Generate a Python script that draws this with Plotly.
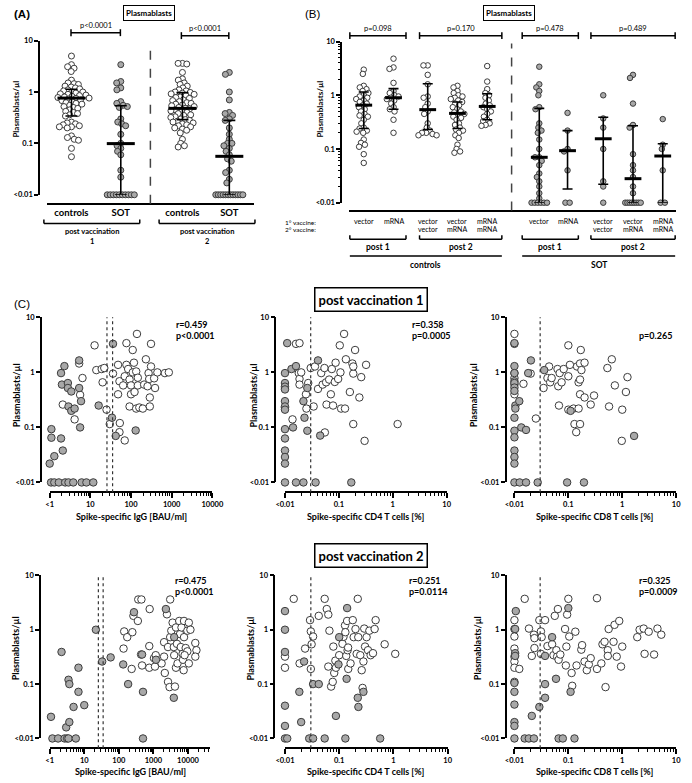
import numpy as np
import plotly.graph_objects as go

# ================= DATA =================
# ---- Panel A : plasmablasts/µl, controls vs SOT after vaccination 1 and 2
A_groups = ["controls", "SOT", "controls", "SOT"]
A_timepoints = ["post vaccination", "post vaccination"]
A_timepoint_no = ["1", "2"]
A_controls_post1 = [5.0, 3.4, 3.1, 2.9, 2.5, 1.7, 1.5, 1.45, 1.4, 1.3, 1.25, 1.2, 1.15, 1.1, 1.05, 1.0, 1.0,
                    0.95, 0.92, 0.9, 0.87, 0.85, 0.82, 0.8, 0.78, 0.76, 0.75, 0.73, 0.7, 0.68, 0.65, 0.62,
                    0.6, 0.58, 0.55, 0.52, 0.5, 0.48, 0.45, 0.42, 0.4, 0.38, 0.36, 0.34, 0.26, 0.25, 0.24,
                    0.23, 0.22, 0.21, 0.21, 0.2, 0.14, 0.13, 0.12, 0.115, 0.08, 0.055]
A_sot_post1 = [3.4, 1.6, 1.5, 1.2, 1.1, 0.65, 0.6, 0.55, 0.52, 0.5, 0.3, 0.26, 0.24, 0.22, 0.15, 0.1, 0.09,
               0.08, 0.07, 0.06, 0.03, 0.022, 0.01, 0.01, 0.01, 0.01, 0.01, 0.01, 0.01, 0.01, 0.01, 0.01]
A_controls_post2 = [3.6, 3.6, 3.5, 2.4, 1.8, 1.7, 1.5, 1.4, 1.3, 1.2, 1.1, 1.05, 1.0, 0.98, 0.95, 0.92, 0.9,
                    0.85, 0.8, 0.78, 0.75, 0.7, 0.68, 0.65, 0.62, 0.6, 0.58, 0.56, 0.54, 0.52, 0.5, 0.48,
                    0.47, 0.45, 0.43, 0.42, 0.4, 0.38, 0.36, 0.35, 0.33, 0.32, 0.3, 0.29, 0.28, 0.27, 0.26,
                    0.25, 0.24, 0.23, 0.22, 0.21, 0.2, 0.19, 0.18, 0.16, 0.12, 0.1, 0.09, 0.085]
A_sot_post2 = [2.4, 2.2, 1.0, 0.7, 0.4, 0.38, 0.35, 0.3, 0.28, 0.2, 0.15, 0.12, 0.1, 0.1, 0.09, 0.08, 0.07,
               0.06, 0.05, 0.045, 0.03, 0.027, 0.02, 0.017, 0.01, 0.01, 0.01, 0.01, 0.01, 0.01, 0.01, 0.01,
               0.01, 0.01, 0.01, 0.01]
A_median = [0.76, 0.099, 0.48, 0.056]
A_q1 = [0.34, 0.01, 0.29, 0.01]
A_q3 = [1.13, 0.54, 0.97, 0.28]
A_pvalues = ["p<0.0001", "p<0.0001"]

# ---- Panel B : by vaccine regimen
B_vaccine1 = ["vector", "mRNA", "vector", "vector", "mRNA", "vector", "mRNA", "vector", "vector", "mRNA"]
B_vaccine2 = ["", "", "vector", "mRNA", "mRNA", "", "", "vector", "mRNA", "mRNA"]
B_timepoints = ["post 1", "post 2", "post 1", "post 2"]
B_cohorts = ["controls", "SOT"]
B_ctrl_post1_vector = [3.0, 2.5, 1.5, 1.4, 1.3, 1.2, 1.1, 1.0, 0.95, 0.9, 0.85, 0.8, 0.75, 0.7, 0.65, 0.6,
                       0.55, 0.5, 0.45, 0.42, 0.4, 0.35, 0.3, 0.25, 0.24, 0.22, 0.21, 0.2, 0.15, 0.13, 0.12,
                       0.11, 0.08, 0.055]
B_ctrl_post1_mrna = [4.8, 3.3, 3.1, 1.7, 1.2, 1.1, 1.0, 0.95, 0.9, 0.85, 0.8, 0.7, 0.6, 0.55, 0.5, 0.35, 0.2]
B_ctrl_post2_vv = [3.6, 3.6, 2.4, 1.6, 0.95, 0.9, 0.7, 0.6, 0.5, 0.45, 0.3, 0.25, 0.22, 0.2, 0.2, 0.19, 0.18, 0.18]
B_ctrl_post2_vm = [1.5, 1.4, 1.2, 1.1, 1.0, 0.95, 0.9, 0.85, 0.8, 0.75, 0.7, 0.65, 0.6, 0.55, 0.5, 0.48,
                   0.45, 0.42, 0.4, 0.38, 0.35, 0.3, 0.28, 0.25, 0.23, 0.22, 0.2, 0.18, 0.16, 0.12, 0.1,
                   0.09, 0.085]
B_ctrl_post2_mm = [3.5, 1.8, 1.3, 1.1, 1.0, 0.9, 0.8, 0.7, 0.65, 0.6, 0.55, 0.5, 0.45, 0.4, 0.35, 0.33,
                   0.3, 0.28, 0.27]
B_sot_post1_vector = [3.4, 1.6, 1.4, 1.2, 1.0, 0.6, 0.55, 0.3, 0.25, 0.22, 0.2, 0.15, 0.1, 0.07, 0.07,
                      0.06, 0.05, 0.035, 0.03, 0.025, 0.02, 0.015, 0.012, 0.01, 0.01, 0.01, 0.01, 0.01, 0.01]
B_sot_post1_mrna = [0.47, 0.22, 0.1, 0.09, 0.04, 0.01, 0.01]
B_sot_post2_vv = [1.0, 0.37, 0.25, 0.1, 0.025, 0.02, 0.01]
B_sot_post2_vm = [2.4, 2.1, 0.7, 0.28, 0.25, 0.08, 0.05, 0.04, 0.03, 0.02, 0.015, 0.01, 0.01, 0.01, 0.01,
                  0.01, 0.01, 0.01, 0.01]
B_sot_post2_mm = [0.36, 0.12, 0.1, 0.04, 0.01, 0.01]
B_median = [0.655, 0.9, 0.54, 0.46, 0.62, 0.07, 0.093, 0.155, 0.028, 0.074]
B_q1 = [0.24, 0.55, 0.23, 0.24, 0.35, 0.01, 0.018, 0.022, 0.01, 0.01]
B_q3 = [1.15, 1.33, 1.64, 0.75, 1.07, 0.57, 0.22, 0.39, 0.27, 0.125]
B_pvalues = ["p=0.098", "p=0.170", "p=0.478", "p=0.489"]

# ---- Panel C : correlations (x = spike-specific response, y = plasmablasts/µl)
IgG_cutoffs = [25.6, 35.2]
Tcell_cutoff = 0.03

C1_controls = [(12.7, 3.1), (14, 1.1), (19, 1.15), (22, 1.2), (20, 0.66), (25, 0.21), (30, 0.115), (36, 0.95),
               (48, 0.4), (53, 0.12), (52, 0.082), (48, 1.37), (52, 0.69), (64, 0.58), (70, 0.85), (77, 3.4),
               (77, 1.37), (85, 1.15), (70, 0.058), (92, 0.74), (100, 0.58), (100, 0.4), (92, 0.24),
               (110, 2.55), (110, 1.0), (118, 1.5), (122, 0.44), (134, 1.04), (140, 5.0), (147, 0.8),
               (147, 0.58), (134, 0.22), (160, 0.23), (195, 0.22), (210, 0.6), (232, 1.73), (255, 0.56),
               (270, 0.97), (280, 0.76), (290, 0.24), (290, 0.35), (310, 3.3), (310, 1.28), (370, 0.78),
               (390, 0.52), (445, 1.0), (680, 0.97), (850, 1.0), (2.1, 0.26), (4.1, 0.14), (5.6, 0.39),
               (6.4, 0.79), (5.3, 1.45)]
C1_sot = [(1.0, 0.022), (1.1, 0.065), (1.3, 0.03), (1.1, 0.093), (1.9, 0.97), (2.0, 0.6), (2.3, 1.3),
          (1.9, 0.063), (2.1, 0.038), (2.8, 0.64), (2.8, 0.52), (2.9, 0.24), (3.4, 0.45), (3.4, 0.2),
          (4.1, 0.22), (5.3, 0.52), (5.3, 1.65), (5.6, 0.1), (5.9, 0.3), (16, 0.25), (36, 3.3), (34, 0.15),
          (42, 0.07), (130, 0.088), (1.08, 0.01), (1.3, 0.01), (1.68, 0.01), (2.4, 0.01), (2.9, 0.01),
          (3.8, 0.01), (6.1, 0.01), (8.0, 0.01), (11.8, 0.01)]
C1_stats = ["r=0.459", "p<0.0001"]

C2_controls = [(0.01, 0.52), (0.01, 0.23), (0.0138, 0.14), (0.016, 3.3), (0.0186, 3.4), (0.018, 0.97),
               (0.0186, 0.76), (0.0186, 0.6), (0.02, 1.0), (0.0245, 0.4), (0.025, 0.22), (0.027, 0.64),
               (0.03, 1.2), (0.034, 0.24), (0.036, 1.28), (0.041, 0.5), (0.047, 0.97), (0.05, 0.6),
               (0.054, 1.2), (0.058, 0.66), (0.059, 0.26), (0.055, 0.081), (0.066, 0.74), (0.071, 0.4),
               (0.074, 1.15), (0.078, 0.25), (0.084, 0.67), (0.087, 1.5), (0.097, 0.76), (0.104, 3.1),
               (0.107, 1.0), (0.11, 0.22), (0.125, 5.0), (0.13, 0.22), (0.135, 1.73), (0.16, 0.44),
               (0.178, 1.45), (0.185, 0.95), (0.185, 1.28), (0.185, 0.115), (0.2, 2.55), (0.24, 0.35),
               (0.26, 0.82), (0.3, 0.057), (0.32, 1.37), (1.23, 0.115)]
C2_sot = [(0.011, 3.4), (0.01, 0.97), (0.01, 0.64), (0.01, 0.55), (0.01, 0.49), (0.01, 0.3), (0.01, 0.24),
          (0.01, 0.21), (0.01, 0.093), (0.01, 0.063), (0.01, 0.038), (0.01, 0.029), (0.01, 0.022),
          (0.0132, 1.15), (0.016, 1.3), (0.0141, 0.1), (0.022, 0.3), (0.023, 0.15), (0.026, 0.52),
          (0.026, 0.087), (0.041, 1.65), (0.045, 0.071), (0.01, 0.01), (0.016, 0.01), (0.022, 0.01),
          (0.037, 0.01), (0.17, 0.01)]
C2_stats = ["r=0.358", "p=0.0005"]

C3_controls = [(0.01, 5.0), (0.01, 0.97), (0.01, 0.79), (0.01, 0.6), (0.01, 0.4), (0.0147, 0.62), (0.02, 0.95),
               (0.025, 0.145), (0.0347, 0.52), (0.041, 0.79), (0.044, 1.28), (0.046, 0.66), (0.049, 0.79),
               (0.063, 1.15), (0.065, 0.56), (0.067, 0.25), (0.069, 0.97), (0.075, 0.66), (0.082, 1.15),
               (0.1, 3.1), (0.1, 0.85), (0.1, 0.21), (0.107, 1.37), (0.125, 0.22), (0.13, 0.115),
               (0.145, 1.28), (0.14, 0.082), (0.155, 0.66), (0.155, 0.22), (0.165, 1.45), (0.165, 0.4),
               (0.165, 0.74), (0.165, 0.115), (0.17, 2.55), (0.175, 1.1), (0.2, 1.5), (0.2, 0.35),
               (0.26, 0.26), (0.3, 0.38), (0.53, 1.2), (0.57, 0.24), (0.64, 1.73), (0.73, 0.58),
               (0.98, 0.057), (1.0, 0.21), (1.17, 0.44), (1.25, 0.82)]
C3_sot = [(0.01, 3.3), (0.01, 3.4), (0.01, 1.3), (0.01, 0.97), (0.01, 0.69), (0.01, 0.64), (0.01, 0.53),
          (0.01, 0.46), (0.0104, 0.25), (0.0104, 0.22), (0.01, 0.15), (0.01, 0.087), (0.01, 0.066),
          (0.01, 0.038), (0.01, 0.029), (0.01, 0.022), (0.0123, 0.3), (0.0134, 0.1), (0.0164, 0.09),
          (0.018, 0.97), (0.0202, 1.65), (0.0357, 1.1), (0.11, 0.2), (1.66, 0.07), (0.01, 0.01),
          (0.0125, 0.01), (0.0164, 0.01), (0.027, 0.01), (0.095, 0.01), (0.195, 0.01)]
C3_stats = ["", "p=0.265"]

C4_controls = [(137, 0.45), (143, 0.93), (175, 0.73), (246, 0.9), (235, 0.19), (264, 1.8), (355, 1.45),
               (365, 3.6), (450, 3.6), (440, 0.35), (470, 0.22), (760, 0.5), (780, 2.4), (760, 0.2),
               (1040, 0.3), (1170, 0.34), (1110, 0.21), (1730, 0.24), (2040, 0.32), (2040, 0.59),
               (2140, 0.16), (2470, 1.92), (2650, 0.48), (2650, 0.11), (2940, 0.088), (3060, 3.6),
               (3060, 0.73), (3300, 0.96), (3600, 1.35), (3900, 0.48), (4000, 0.34), (4200, 0.09),
               (4500, 0.2), (4500, 1.1), (4800, 0.55), (5000, 0.24), (5600, 1.45), (5900, 0.83),
               (6200, 0.48), (6500, 1.1), (7000, 0.36), (7200, 0.28), (7700, 0.73), (7700, 1.45),
               (8600, 0.46), (7500, 0.18), (9600, 0.96), (10600, 1.35), (9600, 0.4), (11800, 1.0),
               (8000, 0.34), (10600, 0.24), (16300, 0.57), (17600, 0.42), (16300, 0.32)]
C4_sot = [(1.09, 0.025), (2.2, 0.39), (3.0, 0.016), (3.7, 0.02), (3.5, 0.12), (3.7, 0.1), (6.8, 0.2),
          (6.8, 0.072), (4.9, 0.038), (10, 0.041), (21.7, 1.0), (33, 0.26), (58, 0.31), (134, 0.23),
          (186, 0.1), (274, 2.1), (470, 0.35), (500, 0.072), (1190, 0.28), (2300, 2.4), (4000, 0.73),
          (3900, 0.056), (1.2, 0.01), (1.75, 0.01), (2.7, 0.01), (3.2, 0.01), (3.5, 0.01), (5.7, 0.01),
          (500, 0.01)]
C4_stats = ["r=0.475", "p<0.0001"]

C5_controls = [(0.0145, 3.7), (0.01, 0.32), (0.01, 0.2), (0.0186, 0.24), (0.0235, 0.45), (0.029, 1.5),
               (0.03, 0.93), (0.031, 0.54), (0.033, 0.75), (0.03, 0.19), (0.042, 1.8), (0.054, 3.7),
               (0.059, 2.4), (0.063, 1.9), (0.066, 0.96), (0.063, 0.21), (0.071, 0.09), (0.076, 0.11),
               (0.078, 0.49), (0.081, 0.16), (0.085, 0.27), (0.087, 0.2), (0.1, 0.34), (0.115, 0.55),
               (0.12, 0.74), (0.128, 1.2), (0.13, 0.9), (0.135, 0.33), (0.14, 1.45), (0.143, 0.42),
               (0.146, 0.47), (0.147, 0.19), (0.162, 0.24), (0.178, 1.5), (0.185, 0.73), (0.2, 1.03),
               (0.21, 0.36), (0.22, 3.7), (0.225, 0.73), (0.245, 0.34), (0.26, 0.18), (0.27, 0.085),
               (0.28, 0.26), (0.29, 1.05), (0.3, 0.49), (0.32, 0.73), (0.34, 0.42), (0.36, 0.96),
               (0.38, 0.34), (0.42, 0.37), (0.45, 1.03), (0.47, 1.5), (0.69, 0.54), (1.08, 0.36)]
C5_sot = [(0.01, 2.2), (0.01, 1.0), (0.01, 0.39), (0.01, 0.04), (0.01, 0.017), (0.0184, 0.072),
          (0.0199, 0.02), (0.0225, 0.26), (0.033, 0.1), (0.042, 0.1), (0.087, 0.026), (0.1, 0.73),
          (0.097, 0.23), (0.14, 2.5), (0.137, 0.125), (0.22, 0.056), (0.226, 0.038), (0.28, 0.072),
          (0.01, 0.01), (0.011, 0.01), (0.028, 0.01), (0.033, 0.01), (0.054, 0.01), (0.13, 0.01),
          (0.57, 0.01)]
C5_stats = ["r=0.251", "p=0.0114"]

C6_controls = [(0.01, 1.5), (0.01, 1.03), (0.01, 0.75), (0.01, 0.45), (0.01, 0.32), (0.01, 0.26),
               (0.01, 0.2), (0.01, 0.11), (0.0123, 0.19), (0.0155, 3.7), (0.0186, 1.05), (0.021, 0.33),
               (0.023, 0.81), (0.0235, 0.7), (0.0235, 0.46), (0.029, 1.5), (0.031, 0.93), (0.032, 0.73),
               (0.031, 0.36), (0.037, 1.5), (0.041, 0.5), (0.05, 0.54), (0.056, 1.8), (0.053, 0.34),
               (0.06, 0.42), (0.064, 2.4), (0.062, 0.32), (0.066, 0.28), (0.071, 0.35), (0.087, 1.03),
               (0.09, 0.22), (0.092, 0.49), (0.095, 1.9), (0.1, 3.7), (0.104, 0.75), (0.115, 0.16),
               (0.118, 0.093), (0.135, 0.92), (0.142, 0.22), (0.174, 0.43), (0.18, 0.52), (0.2, 0.26),
               (0.22, 0.18), (0.24, 0.23), (0.26, 0.3), (0.34, 3.8), (0.34, 0.19), (0.41, 0.24),
               (0.43, 0.54), (0.47, 0.6), (0.49, 0.088), (0.54, 0.42), (0.54, 0.33), (0.56, 1.03),
               (0.69, 0.6), (0.72, 1.23), (0.79, 0.32), (0.88, 1.45), (0.95, 0.21), (1.0, 0.49),
               (1.9, 0.73), (2.1, 1.0), (2.5, 1.05), (2.6, 0.36), (3.1, 0.92), (3.9, 0.35), (4.5, 1.05),
               (5.3, 0.81)]
C6_sot = [(0.0106, 2.2), (0.0103, 1.03), (0.0103, 0.37), (0.0103, 0.33), (0.01, 0.072), (0.01, 0.042),
          (0.01, 0.02), (0.01, 0.017), (0.01, 0.105), (0.021, 0.026), (0.029, 0.038), (0.037, 0.33),
          (0.037, 0.1), (0.037, 0.056), (0.05, 0.73), (0.059, 0.125), (0.1, 2.5), (0.11, 0.072),
          (0.01, 0.01), (0.0155, 0.01), (0.0185, 0.01), (0.023, 0.01), (0.066, 0.01), (0.079, 0.01),
          (0.13, 0.01)]
C6_stats = ["r=0.325", "p=0.0009"]

C_titles = ["Spike-specific IgG [BAU/ml]", "Spike-specific CD4 T cells [%]", "Spike-specific CD8 T cells [%]"]
Y_title = "Plasmablasts/µl"
Y_tickvals = [0.01, 0.1, 1, 10]
Y_ticktext = ["<0.01", "0.1", "1", "10"]
IgG_tickvals = [1, 10, 100, 1000, 10000]
IgG_ticktext = ["<1", "10", "100", "1000", "10000"]
T_tickvals = [0.01, 0.1, 1, 10]
T_ticktext = ["<0.01", "0.1", "1", "10"]

# ================= HELPERS =================
W, H = 692, 783
FONT = "Lato"


def PX(x):
    return x / W


def PY(y):
    return 1 - y / H


OPEN = dict(color="white", line=dict(color="#3c3c3c", width=1))
GRAY = dict(color="#a8a8a8", line=dict(color="#3c3c3c", width=1))

fig = go.Figure()
layout_axes = {}
shapes = []
annots = []


def text(x, y, s, size=8, bold=False, xanchor="center", yanchor="middle", angle=0, family=FONT, **kw):
    annots.append(dict(x=PX(x), y=PY(y), xref="paper", yref="paper",
                       text=f"<b>{s}</b>" if bold else s, showarrow=False,
                       font=dict(family=family, size=size, color="black"),
                       xanchor=xanchor, yanchor=yanchor, textangle=angle, **kw))


def line(x0, y0, x1, y1, w=1.5, dash="solid", color="black"):
    shapes.append(dict(type="line", xref="paper", yref="paper", x0=PX(x0), x1=PX(x1),
                       y0=PY(y0), y1=PY(y1), line=dict(color=color, width=w, dash=dash)))


def bracket_up(x0, x1, y, h=4):
    line(x0, y, x1, y)
    line(x0, y, x0, y - h)
    line(x1, y, x1, y - h)


def bracket_p(x0, x1, y, h=3.5):
    line(x0, y, x1, y)
    line(x0, y - h, x0, y + h)
    line(x1, y - h, x1, y + h)


def swarm(vals, px_per_dec, d=6.0, floor=0.01, floor_w=14):
    vals = np.asarray(vals, float)
    ys = np.log10(vals) * px_per_dec
    offs = np.zeros(len(vals))
    placed = []
    order = np.argsort(-vals, kind="stable")
    for i in order:
        if vals[i] <= floor:
            continue
        y = ys[i]
        cands = [0.0]
        for (py_, px_) in placed:
            dy = abs(y - py_)
            if dy < d:
                dx = np.sqrt(d * d - dy * dy)
                cands += [px_ + dx, px_ - dx]
        cands.sort(key=lambda c: (abs(c), c))
        for c in cands:
            if all((c - px_) ** 2 + (y - py_) ** 2 >= d * d - 1e-6 for py_, px_ in placed):
                offs[i] = c
                break
        placed.append((y, offs[i]))
    fl = [i for i in order if vals[i] <= floor]
    n = len(fl)
    if n > 1:
        step = min(d, 2 * floor_w / (n - 1))
        for k, i in enumerate(fl):
            offs[i] = (k - (n - 1) / 2) * step
    return offs


def minor_vals(lo_exp, hi_exp):
    out = []
    for e in range(int(np.floor(lo_exp)), int(np.ceil(hi_exp)) + 1):
        for m in range(2, 10):
            v = m * 10.0 ** e
            if 10 ** lo_exp < v < 10 ** hi_exp:
                out.append(v)
    return out


def add_axes(n, xdom, ydom, xline_y, yline_x, xaxis_extra, yrange=(-2, 1), yminor=False):
    xa = dict(domain=[PX(xdom[0]), PX(xdom[1])], anchor="free", position=PY(xline_y),
              showline=True, linecolor="black", linewidth=1.5, showgrid=False, zeroline=False,
              tickcolor="black", tickwidth=1.5)
    xa.update(xaxis_extra)
    ya = dict(domain=[PY(ydom[1]), PY(ydom[0])], anchor="free", position=PX(yline_x), type="log",
              range=list(yrange), showline=True, linecolor="black", linewidth=1.5, showgrid=False,
              zeroline=False, ticks="outside", ticklen=4, tickwidth=1.5, tickcolor="black",
              tickvals=Y_tickvals, ticktext=Y_ticktext,
              tickfont=dict(family=FONT, size=7.5, color="black", weight="bold"))
    if yminor:
        ya["minor"] = dict(tickmode="array", tickvals=minor_vals(*yrange), ticks="outside", ticklen=2,
                           tickwidth=1, tickcolor="black", showgrid=False)
    layout_axes["xaxis" if n == 1 else f"xaxis{n}"] = xa
    layout_axes["yaxis" if n == 1 else f"yaxis{n}"] = ya
    return ("x" if n == 1 else f"x{n}"), ("y" if n == 1 else f"y{n}")


def add_group_traces(xa, ya, centers, series, kinds, px_unit, px_dec, msize, d, floor_w,
                     med, q1, q3, bar_size, cap):
    for c, vals, kind in zip(centers, series, kinds):
        offs = swarm(vals, px_dec, d=d, floor_w=floor_w)
        fig.add_trace(go.Scatter(x=c + offs / px_unit, y=vals, mode="markers", xaxis=xa, yaxis=ya,
                                 marker=dict(size=msize, symbol="circle", **(OPEN if kind == "open" else GRAY)),
                                 cliponaxis=False, showlegend=False, hoverinfo="skip"))
    med = np.asarray(med)
    fig.add_trace(go.Scatter(x=centers, y=med, mode="markers", xaxis=xa, yaxis=ya,
                             marker=dict(symbol="line-ew", size=bar_size, color="black",
                                         line=dict(width=3, color="black")),
                             error_y=dict(type="data", symmetric=False, array=np.asarray(q3) - med,
                                          arrayminus=med - np.asarray(q1), color="black",
                                          thickness=1.6, width=cap),
                             cliponaxis=False, showlegend=False, hoverinfo="skip"))


# ================= PANEL A =================
A_centers = [0, 1, 2.25, 3.2]
xa, ya = add_axes(1, (38, 252), (37, 193), 202, 30,
                  dict(range=[-0.5, 3.7], tickvals=A_centers, ticktext=A_groups, ticks="",
                       tickfont=dict(family=FONT, size=9.5, color="black", weight="bold")))
add_group_traces(xa, ya, A_centers, [A_controls_post1, A_sot_post1, A_controls_post2, A_sot_post2],
                 ["open", "gray", "open", "gray"], 214 / 4.2, 52.0, 6, 4.5, 14,
                 A_median, A_q1, A_q3, 20, 6)
shapes.append(dict(type="line", xref=xa, yref="paper", x0=1.6, x1=1.6, y0=PY(202), y1=PY(39),
                   line=dict(color="#444", width=1.5, dash="dash")))
text(2, 10, "(A)", size=11.5, bold=True, xanchor="left", family="Liberation Sans")
text(144, 9, "Plasmablasts", size=8, bold=True, bordercolor="black", borderwidth=1, borderpad=2,
     bgcolor="white")
bracket_p(63, 114, 29)
text(88.5, 22, A_pvalues[0], size=7.5)
bracket_p(177, 226, 32)
text(201.5, 25, A_pvalues[1], size=7.5)
bracket_up(35, 134, 222)
bracket_up(154, 253, 222)
text(84.5, 230, A_timepoints[0], size=7.5, bold=True)
text(84.5, 240, A_timepoint_no[0], size=7.5, bold=True)
text(203.5, 230, A_timepoints[1], size=7.5, bold=True)
text(203.5, 240, A_timepoint_no[1], size=7.5, bold=True)
text(6, 106, Y_title, size=8, bold=True, angle=-90)

# ================= PANEL B =================
B_centers = [0.5, 1.5, 2.65, 3.65, 4.65, 6.4, 7.35, 8.55, 9.55, 10.55]
B_series = [B_ctrl_post1_vector, B_ctrl_post1_mrna, B_ctrl_post2_vv, B_ctrl_post2_vm, B_ctrl_post2_mm,
            B_sot_post1_vector, B_sot_post1_mrna, B_sot_post2_vv, B_sot_post2_vm, B_sot_post2_mm]
B_kinds = ["open"] * 5 + ["gray"] * 5
xb, yb = add_axes(2, (350, 688), (38, 201), 209, 342,
                  dict(range=[0, 11], tickvals=B_centers, showticklabels=False, ticks=""), yminor=True)
add_group_traces(xb, yb, B_centers, B_series, B_kinds, 338 / 11, 54.3, 5.5, 4.4, 8,
                 B_median, B_q1, B_q3, 12, 5)
shapes.append(dict(type="line", xref=xb, yref="paper", x0=5.47, x1=5.47, y0=PY(209), y1=PY(40),
                   line=dict(color="#444", width=1.5, dash="dash")))
for c, v1, v2 in zip(B_centers, B_vaccine1, B_vaccine2):
    annots.append(dict(x=c, y=PY(220), xref=xb, yref="paper", text=v1, showarrow=False,
                       font=dict(family=FONT, size=7, color="black"), xanchor="center", yanchor="middle"))
    if v2:
        annots.append(dict(x=c, y=PY(227.5), xref=xb, yref="paper", text=v2, showarrow=False,
                           font=dict(family=FONT, size=7, color="black"), xanchor="center", yanchor="middle"))
text(318, 221, "1° vaccine:", size=6.5, xanchor="right")
text(318, 228, "2° vaccine:", size=6.5, xanchor="right")
text(303, 10, "(B)", size=11.5, bold=False, xanchor="left", family="Liberation Sans")
text(515, 9, "Plasmablasts", size=8, bold=True, bordercolor="black", borderwidth=1, borderpad=2,
     bgcolor="white")
B_spans = [(351, 409), (423, 508), (529, 587), (600, 687)]
for (x0, x1), p, t in zip(B_spans, B_pvalues, B_timepoints):
    bracket_p(x0, x1, 32)
    text((x0 + x1) / 2, 25, p, size=7.5)
    bracket_up(x0, x1, 238)
    text((x0 + x1) / 2, 246, t, size=8.5, bold=True)
line(351, 255, 508, 255)
line(529, 255, 687, 255)
text(429.5, 264, B_cohorts[0], size=8.5, bold=True)
text(608, 264, B_cohorts[1], size=8.5, bold=True)
text(320, 106, Y_title, size=8, bold=True, angle=-90)

# ================= PANEL C =================
text(2, 303, "(C)", size=11.5, bold=False, xanchor="left", family="Liberation Sans")
text(372.5, 298.5, "post vaccination 1", size=13, bold=True, bordercolor="black", borderwidth=1.5,
     borderpad=3, bgcolor="white")
text(372.5, 557.5, "post vaccination 2", size=13, bold=True, bordercolor="black", borderwidth=1.5,
     borderpad=3, bgcolor="white")

C_panels = [
    dict(ctrl=C1_controls, sot=C1_sot, stats=C1_stats, kind="igg", xdom=(41, 209), xrng=(0, 4),
         ydom=(317, 484), xline=494, yline=32, ylab=7, ylab_y=396, stat_x=169, stat_y=324, title_y=518),
    dict(ctrl=C2_controls, sot=C2_sot, stats=C2_stats, kind="cd4", xdom=(284, 451), xrng=(-2, 1),
         ydom=(317, 484), xline=494, yline=274, ylab=251, ylab_y=396, stat_x=413, stat_y=324, title_y=518),
    dict(ctrl=C3_controls, sot=C3_sot, stats=C3_stats, kind="cd8", xdom=(521, 688), xrng=(-2, 1),
         ydom=(317, 484), xline=494, yline=512, ylab=479, ylab_y=396, stat_x=648, stat_y=324, title_y=518),
    dict(ctrl=C4_controls, sot=C4_sot, stats=C4_stats, kind="igg", xdom=(41, 207), xrng=(0, 4.65),
         ydom=(578, 743), xline=753, yline=31, ylab=6, ylab_y=652, stat_x=168, stat_y=583, title_y=776),
    dict(ctrl=C5_controls, sot=C5_sot, stats=C5_stats, kind="cd4", xdom=(284, 452), xrng=(-2, 1),
         ydom=(578, 743), xline=753, yline=273, ylab=248, ylab_y=652, stat_x=410, stat_y=583, title_y=776),
    dict(ctrl=C6_controls, sot=C6_sot, stats=C6_stats, kind="cd8", xdom=(521, 688), xrng=(-2, 1),
         ydom=(578, 743), xline=753, yline=512, ylab=483, ylab_y=652, stat_x=648, stat_y=583, title_y=776),
]

for k, p in enumerate(C_panels):
    n = k + 3
    igg = p["kind"] == "igg"
    tv = IgG_tickvals if igg else T_tickvals
    tt = IgG_ticktext if igg else T_ticktext
    xc, yc = add_axes(n, p["xdom"], p["ydom"], p["xline"], p["yline"],
                      dict(type="log", range=list(p["xrng"]), tickvals=tv, ticktext=tt,
                           ticks="outside", ticklen=5,
                           tickfont=dict(family=FONT, size=7.5, color="black", weight="bold"),
                           minor=dict(tickmode="array", tickvals=minor_vals(*p["xrng"]),
                                      ticks="outside", ticklen=3, tickwidth=1, tickcolor="black",
                                      showgrid=False)))
    cx, cy = zip(*p["ctrl"])
    sx, sy = zip(*p["sot"])
    fig.add_trace(go.Scatter(x=cx, y=cy, mode="markers", xaxis=xc, yaxis=yc,
                             marker=dict(size=7.5, symbol="circle", **OPEN),
                             cliponaxis=False, showlegend=False, hoverinfo="skip"))
    fig.add_trace(go.Scatter(x=sx, y=sy, mode="markers", xaxis=xc, yaxis=yc,
                             marker=dict(size=7.5, symbol="circle", **GRAY),
                             cliponaxis=False, showlegend=False, hoverinfo="skip"))
    cuts = IgG_cutoffs if igg else [Tcell_cutoff]
    for cval in cuts:
        shapes.append(dict(type="line", xref=xc, yref="paper", x0=cval, x1=cval,
                           y0=PY(p["xline"]), y1=PY(p["ydom"][0]),
                           line=dict(color="#333", width=1.2, dash="dot")))
    s1, s2 = p["stats"]
    if s1:
        text(p["stat_x"], p["stat_y"], s1, size=9, bold=True, xanchor="left")
    text(p["stat_x"], p["stat_y"] + 11, s2, size=9, bold=True, xanchor="left")
    text((p["xdom"][0] + p["xdom"][1]) / 2, p["title_y"], C_titles[k % 3], size=9, bold=True)
    text(p["ylab"], p["ylab_y"], Y_title, size=9, bold=True, angle=-90)

fig.update_layout(width=W, height=H, margin=dict(l=0, r=0, t=0, b=0),
                  paper_bgcolor="white", plot_bgcolor="white", showlegend=False,
                  shapes=shapes, annotations=annots, font=dict(family=FONT, color="black"),
                  **layout_axes)
fig.write_html("out.html", config={"displayModeBar": False},
               post_script="document.body.style.margin='0px';document.body.style.overflow='hidden';")
